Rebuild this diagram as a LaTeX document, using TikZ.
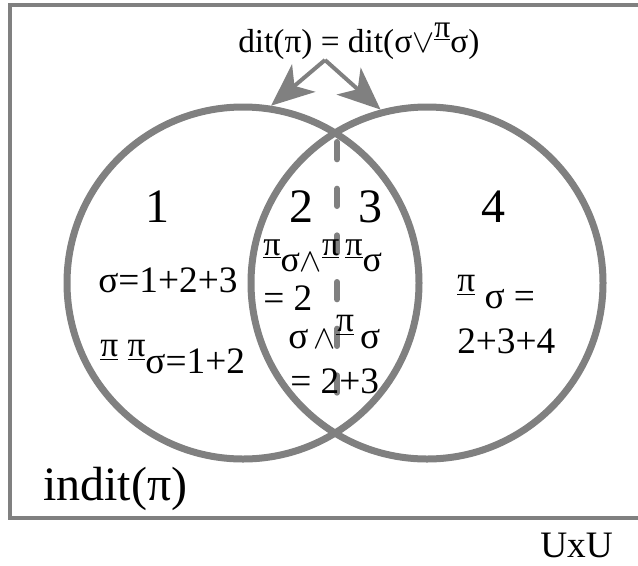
\documentclass[tikz,border=0pt]{standalone}
\usepackage{fontspec}
\setmainfont{Liberation Serif}
\usetikzlibrary{arrows.meta}
\definecolor{vgray}{RGB}{128,128,128}
\newcommand{\pib}{\raisebox{0.95ex}{\underline{\scalebox{0.95}{π}}}}
\tikzset{
  lbl/.style={inner sep=0pt,anchor=base west,font=\fontsize{28}{32}\selectfont},
  num/.style={inner sep=0pt,anchor=base,font=\fontsize{36}{40}\selectfont},
  ring/.style={draw=vgray,circle,line width=5.25pt,minimum size=264pt,inner sep=0pt},
  arr/.style={-{Stealth[length=32pt,width=27pt,inset=9pt]},color=vgray,line width=3pt}
}
\begin{document}
\begin{tikzpicture}[x=0.75pt,y=-0.75pt]
\clip (0,0) rectangle (638,565);
\draw[vgray,line width=3pt] (10,5) rectangle (660,518);
% split line between 2 and 3
\coordinate (dtop) at (337,142);
\coordinate (dbot) at (337,405);
\draw[vgray,line width=4.5pt,line cap=round,dash pattern=on 13pt off 22pt] (dtop)--(dbot);
\node[ring] (lc) at (243,283) {};
\node[ring] (rc) at (427,283) {};
\node[lbl,font=\fontsize{25}{30}\selectfont] (eq) at (238,52) {dit(π) = dit(σ$\vee$\pib σ)};
\coordinate (apex) at (325,60);
\draw[arr] (apex)--(lc.81);
\draw[arr] (apex)--(rc.105);
% regions
\node[num] (n1) at (157,222) {1};
\node[num] (n2) at (301,222) {2};
\node[num] (n3) at (370,222) {3};
\node[num] (n4) at (493,222) {4};
\node[lbl] (s1) at (98,292) {σ=1+2+3};
\node[lbl] (s2) at (100,373) {\pib\ \pib σ=1+2};
\node[lbl,font=\fontsize{27}{30}\selectfont] (m1) at (263,271) {\pib σ$\wedge$\pib\,\pib σ};
\node[lbl] (m2) at (263,310) {= 2};
\node[lbl] (m3) at (288,348) {σ$\,\wedge$\pib\,σ};
\node[lbl] (m4) at (290,393) {= 2+3};
\node[lbl] (r1) at (457,308) {\pib\ σ =};
\node[lbl] (r2) at (457,353) {2+3+4};
\node[lbl,font=\fontsize{36}{40}\selectfont] (ind) at (43,500) {indit(π)};
\node[lbl] (uxu) at (540,557) {UxU};
\end{tikzpicture}
\end{document}
